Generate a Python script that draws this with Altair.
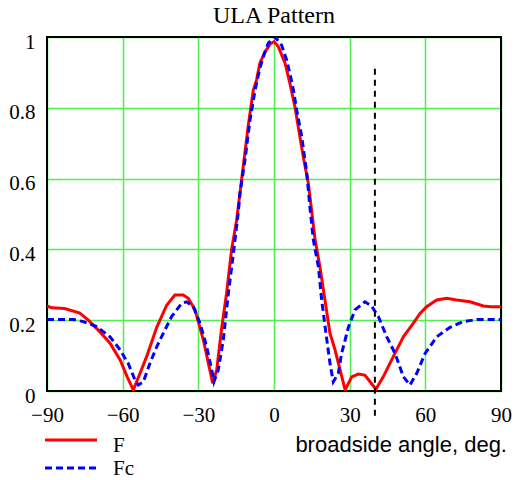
import altair as alt
import pandas as pd

# ---- data ----
f_deg = [-90, -88, -83, -77, -73.6, -69, -65, -61, -58.2, -55.8, -53.1, -50.5, -46.5, -42.5, -39.3,
         -36, -34, -31.3, -28, -26, -24.3, -22.7, -20.7, -18.8, -16.8, -14.8, -12.8, -10.2, -8.2, -6.9,
         -5.6, -3.6, -1.5, 0, 1.7, 4.4, 6.3, 8.3, 9.6, 11.6, 13.6, 14.9, 16.3, 18.2, 20.2,
         22.2, 24.2, 26.2, 28.2, 30.8, 33.4, 36, 38.1, 40.4, 43.3, 47.3, 51.3, 55.2, 57.9, 60.5,
         64.5, 68.5, 72.4, 77.7, 83, 86, 90]
f_val = [0.24, 0.235, 0.233, 0.22, 0.20, 0.167, 0.135, 0.088, 0.04, 0.003, 0.05, 0.097, 0.18, 0.243, 0.271,
         0.271, 0.262, 0.229, 0.144, 0.078, 0.022, 0.06, 0.18, 0.276, 0.40, 0.483, 0.60, 0.75, 0.85, 0.879,
         0.926, 0.958, 0.98, 0.987, 0.973, 0.926, 0.869, 0.803, 0.747, 0.662, 0.587, 0.511, 0.427, 0.351, 0.257,
         0.163, 0.116, 0.06, 0.003, 0.04, 0.048, 0.045, 0.026, 0.005, 0.04, 0.097, 0.153, 0.191, 0.219, 0.238,
         0.257, 0.262, 0.257, 0.252, 0.24, 0.238, 0.238]

fc_deg = [-90, -85, -79.6, -75.6, -70.3, -65, -61, -57.8, -55.1, -53.8, -51.8, -49.2, -46.5, -43.9, -40.6,
          -36.6, -34.6, -32, -29.3, -26.7, -24.7, -23.8, -22.1, -20.1, -18.1, -16.1, -14.2, -13.5, -11.5, -9.5,
          -7.5, -5.6, -4, -2.3, 0, 1, 3, 5, 6.3, 7.7, 9, 11, 13, 14.3, 15.6,
          17.6, 18.9, 20.6, 22.2, 23.5, 25.5, 26.8, 29.5, 32.1, 36.1, 38.7, 41.4, 44.7, 48, 51.3,
          53.9, 56.6, 59.9, 64.5, 69.8, 75.1, 80.4, 85, 90]
fc_val = [0.202, 0.202, 0.202, 0.196, 0.182, 0.153, 0.116, 0.078, 0.031, 0.017, 0.026, 0.078, 0.125, 0.163, 0.21,
          0.248, 0.252, 0.238, 0.191, 0.125, 0.06, 0.026, 0.06, 0.144, 0.276, 0.389, 0.502, 0.558, 0.653, 0.766,
          0.85, 0.912, 0.949, 0.982, 1.0, 0.995, 0.977, 0.935, 0.897, 0.85, 0.794, 0.718, 0.615, 0.515, 0.427,
          0.351, 0.257, 0.163, 0.078, 0.026, 0.05, 0.106, 0.18, 0.229, 0.252, 0.24, 0.21, 0.153, 0.106, 0.04,
          0.017, 0.05, 0.106, 0.153, 0.18, 0.196, 0.202, 0.202, 0.202]

x_ticks = [-90, -60, -30, 0, 30, 60, 90]
y_ticks = [0, 0.2, 0.4, 0.6, 0.8, 1]
marker_deg = [40]
marker_lo = [-0.07]
marker_hi = [0.915]
series_names = ["F", "Fc"]
title_text = "ULA Pattern"
x_label = "broadside angle, deg."

W, H = 454, 354
SERIF = "Liberation Serif"
SANS = "Liberation Sans"
GRID = "#50f050"

df_f = pd.DataFrame({"deg": f_deg, "val": f_val})
df_fc = pd.DataFrame({"deg": fc_deg, "val": fc_val})
df_m = pd.DataFrame({"deg": marker_deg, "lo": marker_lo, "hi": marker_hi})

xs = alt.Scale(domain=[-90, 90], nice=False, zero=False)
ys = alt.Scale(domain=[0, 1], nice=False, zero=False)

xaxis = alt.Axis(values=x_ticks, title=None, grid=True, gridColor=GRID, gridWidth=1.5,
                 ticks=False, tickSize=0, domain=False, labelFont=SERIF, labelFontSize=21,
                 labelColor="black", labelPadding=30, labelBaseline="alphabetic",
                 labelFlush=False, labelOverlap=False, format="d")
yaxis = alt.Axis(values=y_ticks, title=None, grid=True, gridColor=GRID, gridWidth=1.5,
                 ticks=False, tickSize=0, domain=False, labelFont=SERIF, labelFontSize=21,
                 labelColor="black", labelPadding=12, labelBaseline="alphabetic", labelOffset=11,
                 labelFlush=False, labelOverlap=False, format=".1~f")

frame = alt.Chart(df_m).mark_rect(filled=False, stroke="black", strokeWidth=2).encode(
    x=alt.value(0), x2=alt.value(W), y=alt.value(0), y2=alt.value(H))

line_f = alt.Chart(df_f).mark_line(color="#ff0000", strokeWidth=3, clip=True).encode(
    x=alt.X("deg:Q", scale=xs, axis=xaxis),
    y=alt.Y("val:Q", scale=ys, axis=yaxis))

line_fc = alt.Chart(df_fc).mark_line(color="#0000ff", strokeWidth=3, strokeDash=[7, 4], clip=True).encode(
    x=alt.X("deg:Q", scale=xs), y=alt.Y("val:Q", scale=ys))

marker = alt.Chart(df_m).mark_rule(color="black", strokeWidth=2, strokeDash=[6, 5], clip=False).encode(
    x=alt.X("deg:Q", scale=xs), y=alt.Y("lo:Q", scale=ys), y2="hi:Q")

leg_f_line = alt.Chart(df_m).mark_rule(color="#ff0000", strokeWidth=3).encode(
    x=alt.value(-2), x2=alt.value(50), y=alt.value(403))
leg_fc_line = alt.Chart(df_m).mark_rule(color="#0000ff", strokeWidth=3, strokeDash=[7, 4]).encode(
    x=alt.value(-2), x2=alt.value(50), y=alt.value(431))
leg_f_txt = alt.Chart(df_m).mark_text(align="left", baseline="alphabetic", font=SERIF, fontSize=21,
                                      color="black").encode(
    x=alt.value(66), y=alt.value(415), text=alt.value(series_names[0]))
leg_fc_txt = alt.Chart(df_m).mark_text(align="left", baseline="alphabetic", font=SERIF, fontSize=21,
                                       color="black").encode(
    x=alt.value(66), y=alt.value(438), text=alt.value(series_names[1]))
xlab = alt.Chart(df_m).mark_text(align="right", baseline="alphabetic", font=SANS, fontSize=22,
                                 color="black").encode(
    x=alt.value(460), y=alt.value(415), text=alt.value(x_label))
title = alt.Chart(df_m).mark_text(align="center", baseline="alphabetic", font=SERIF, fontSize=24,
                                  color="black").encode(
    x=alt.value(W / 2), y=alt.value(-14), text=alt.value(title_text))

chart = alt.layer(
    frame, line_f, line_fc, marker, leg_f_line, leg_fc_line, leg_f_txt, leg_fc_txt, xlab, title
).properties(
    width=W, height=H,
    autosize=alt.AutoSizeParams(type="none"),
    padding={"left": 47, "top": 37, "right": 17, "bottom": 89},
).configure_view(stroke=None).configure(background="white")

chart.save("out.html", embed_options={"renderer": "svg", "actions": False})
